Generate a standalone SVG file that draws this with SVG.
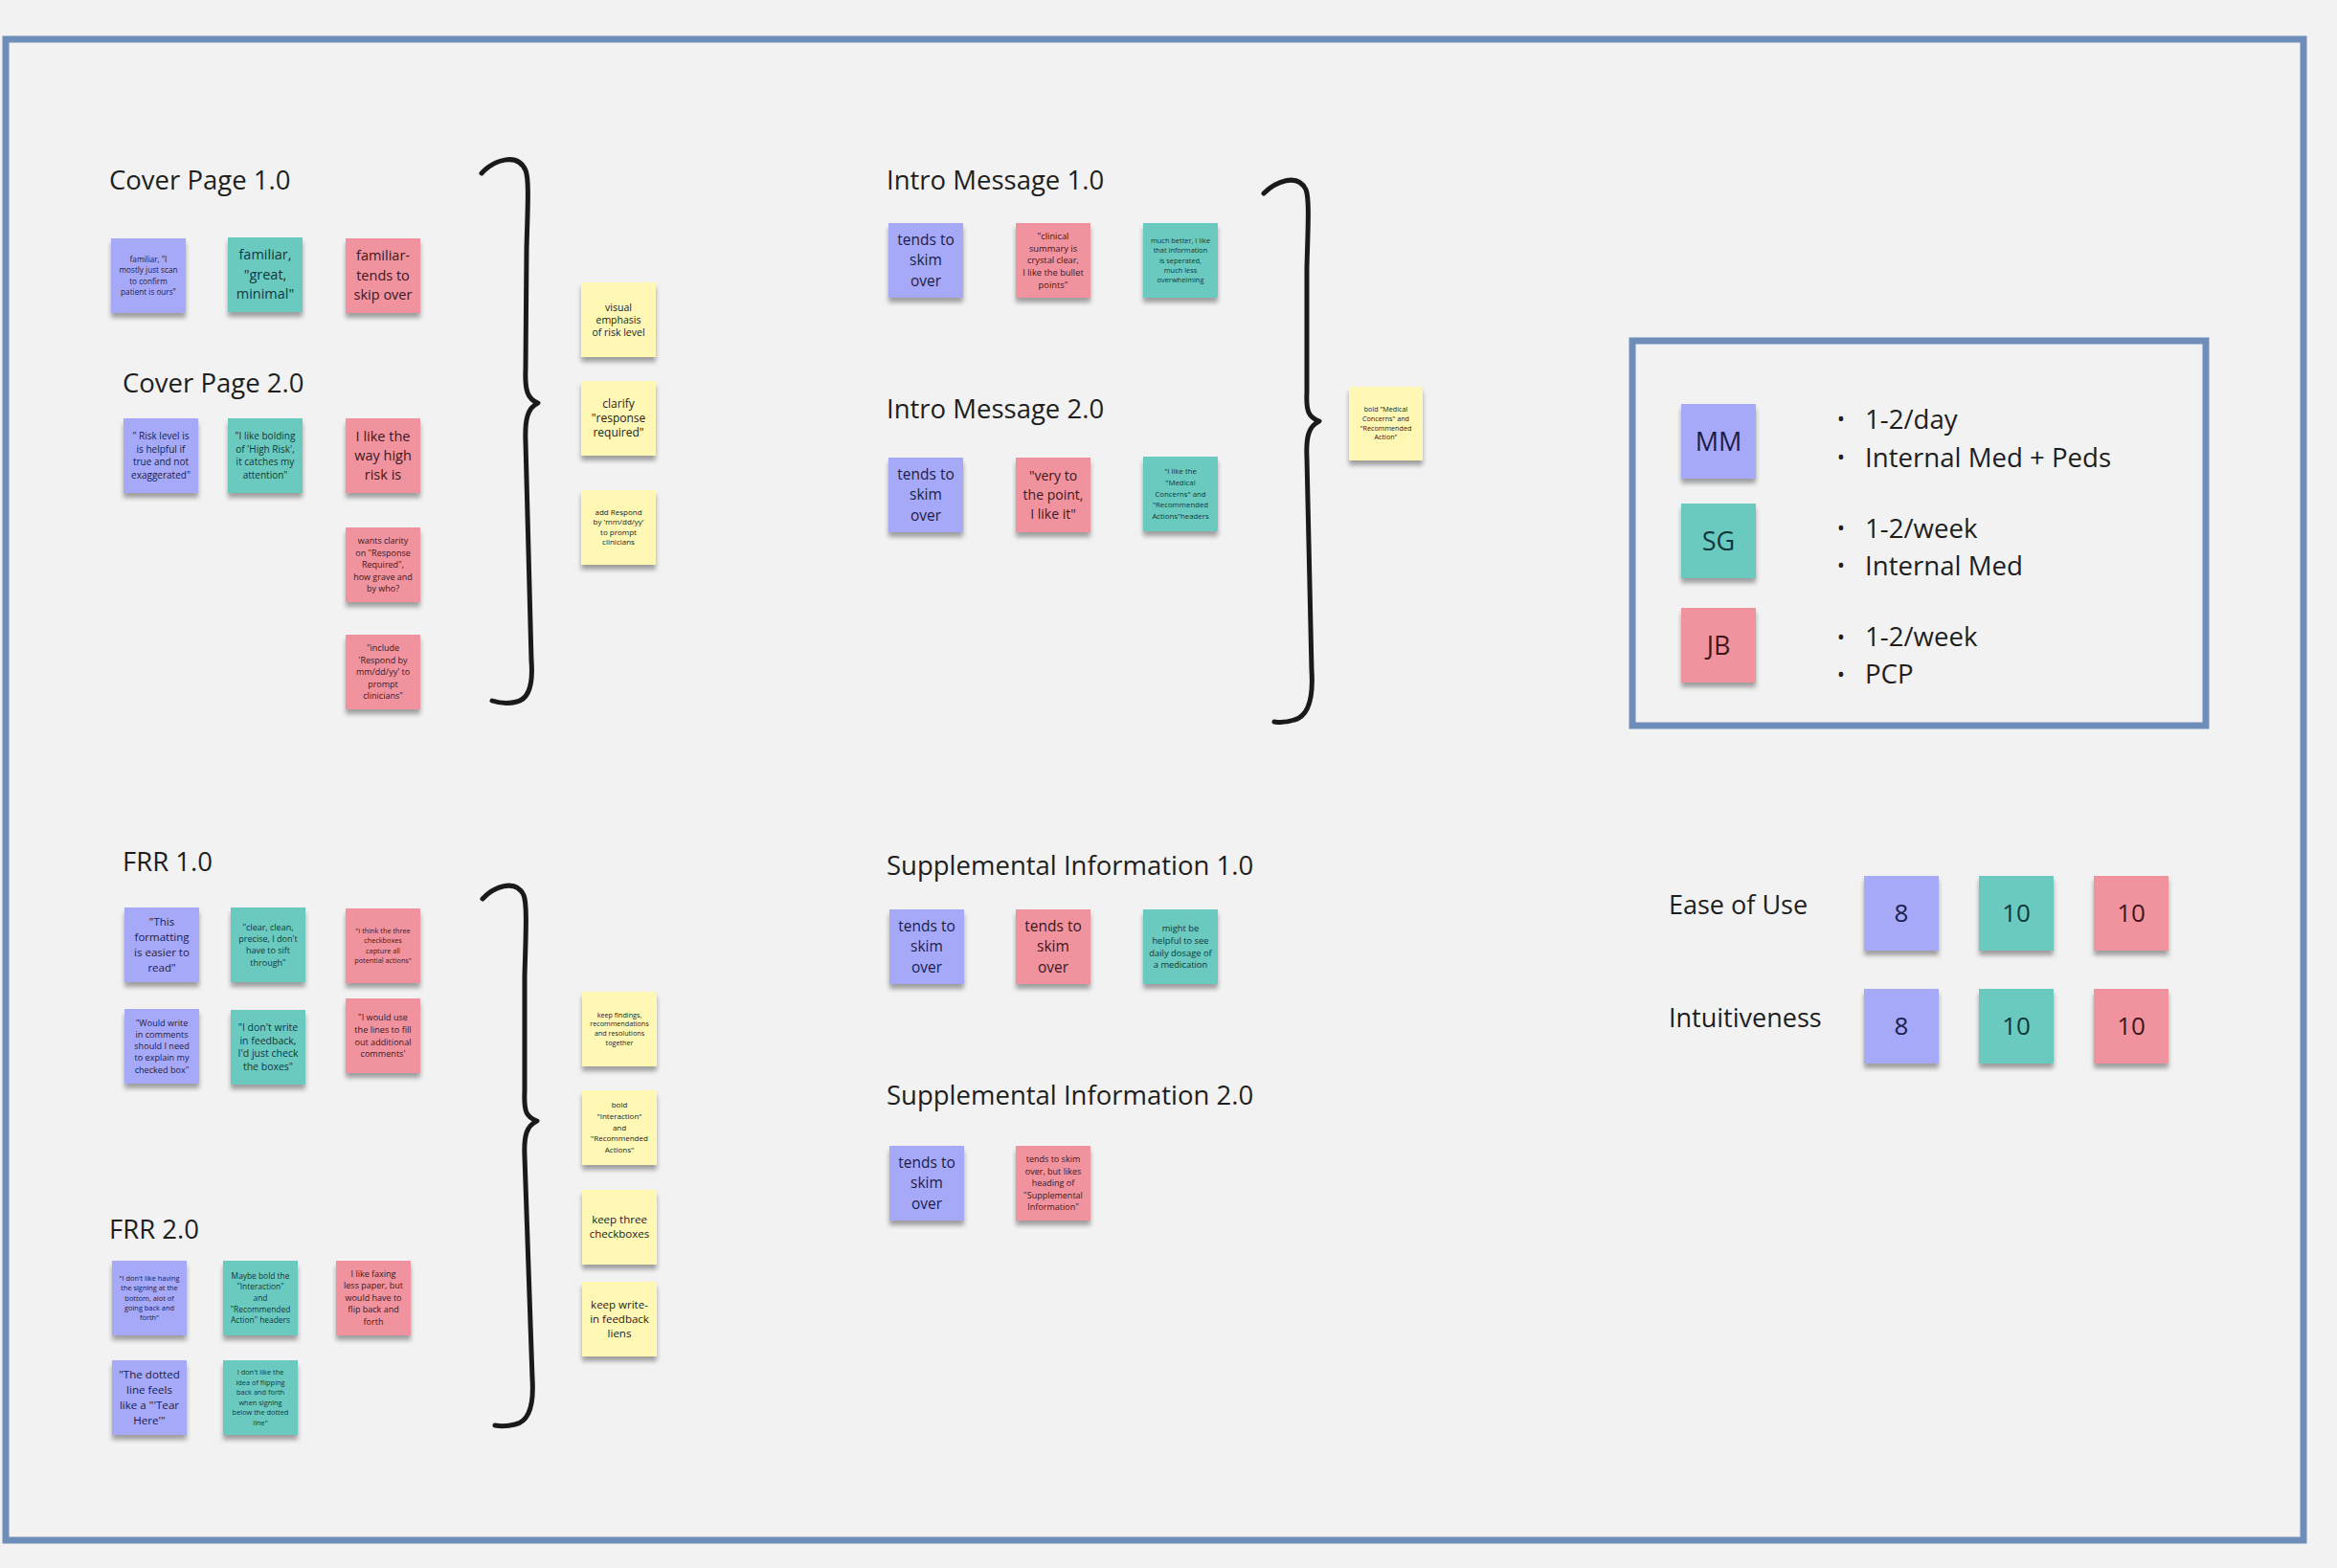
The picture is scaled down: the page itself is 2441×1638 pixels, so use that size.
<svg xmlns="http://www.w3.org/2000/svg" width="2441" height="1638" viewBox="0 0 2441 1638">
<defs>
<filter id="sh" x="-20%" y="-20%" width="140%" height="150%">
<feGaussianBlur in="SourceAlpha" stdDeviation="2.5"/>
<feOffset dy="5"/>
<feComponentTransfer><feFuncA type="linear" slope="0.35"/></feComponentTransfer>
<feMerge><feMergeNode/><feMergeNode in="SourceGraphic"/></feMerge>
</filter>
<style>
.s{filter:url(#sh)}
.b{fill:#a6a9f8}
.t{fill:#6acac0}
.p{fill:#f1939e}
.y{fill:#fef8b4}
text{font-family:"Open Sans","Liberation Sans",sans-serif;text-anchor:middle}
.tb{fill:#1c1c48}
.tt{fill:#10383a}
.tp{fill:#3e161c}
.ty{fill:#222}
.ttl{font-size:27.5px;fill:#1e1e1e;text-anchor:start}
.lg{font-size:27.6px;fill:#1e1e1e;text-anchor:start}
.br{fill:none;stroke:#1a1a1a;stroke-width:5;stroke-linecap:round;stroke-linejoin:round}
</style>
</defs>
<rect x="0" y="0" width="2441" height="1638" fill="#f2f2f2"/>
<rect x="6" y="41" width="2400" height="1568" fill="none" stroke="#6e8db8" stroke-width="7"/>

<g id="titles">
<text class="ttl" x="114" y="198">Cover Page 1.0</text>
<text class="ttl" x="128" y="410">Cover Page 2.0</text>
<text class="ttl" x="926" y="198">Intro Message 1.0</text>
<text class="ttl" x="926" y="437">Intro Message 2.0</text>
<text class="ttl" x="128" y="910">FRR 1.0</text>
<text class="ttl" x="114" y="1294">FRR 2.0</text>
<text class="ttl" x="926" y="914">Supplemental Information 1.0</text>
<text class="ttl" x="926" y="1154">Supplemental Information 2.0</text>
<text class="ttl" x="1743" y="955" style="font-size:27px">Ease of Use</text>
<text class="ttl" x="1743" y="1073" style="font-size:27px">Intuitiveness</text>
</g>

<g id="connectors">
<path class="br" d="M 503 181 C 515 168, 540 158, 549 178 C 553 188, 551 220, 550 260 L 549 385 C 548 408, 551 417, 562 421 C 551 426, 548 438, 549 462 L 555 690 C 557 715, 552 730, 540 733 C 530 736, 520 734, 514 732"/>
<path class="br" d="M 1320 202 C 1332 190, 1355 180, 1364 198 C 1368 208, 1366 240, 1365 280 L 1365 410 C 1364 430, 1367 436, 1378 440 C 1367 445, 1364 456, 1365 478 L 1370 700 C 1372 730, 1366 748, 1352 752 C 1343 755, 1336 755, 1331 754"/>
<path class="br" d="M 504 939 C 515 927, 538 917, 547 935 C 551 945, 549 980, 548 1020 L 548 1140 C 547 1162, 550 1167, 561 1171 C 550 1176, 547 1186, 548 1208 L 556 1440 C 558 1470, 552 1485, 538 1488 C 530 1490, 523 1490, 517 1489"/>
</g>

<!-- Cover Page 1.0 -->
<g id="c1-mm"><rect class="s b" x="116" y="249" width="78" height="78"/><text class="tb" font-size="8.2"><tspan x="155" y="273.9">familiar, "I</tspan><tspan x="155" y="285.2">mostly just scan</tspan><tspan x="155" y="296.5">to confirm</tspan><tspan x="155" y="307.8">patient is ours"</tspan></text></g>
<g id="c1-sg"><rect class="s t" x="238" y="248" width="78" height="78"/><text class="tt" font-size="14.5"><tspan x="277" y="271.4">familiar,</tspan><tspan x="277" y="291.9">"great,</tspan><tspan x="277" y="312.4">minimal"</tspan></text></g>
<g id="c1-jb"><rect class="s p" x="361" y="249" width="78" height="78"/><text class="tp" font-size="14.5"><tspan x="400" y="272.4">familiar-</tspan><tspan x="400" y="292.9">tends to</tspan><tspan x="400" y="313.4">skip over</tspan></text></g>

<!-- Cover Page 2.0 -->
<g id="c2-mm"><rect class="s b" x="129" y="437" width="78" height="78"/><text class="tb" font-size="10"><tspan x="168" y="458.6">" Risk level is</tspan><tspan x="168" y="472.5">is helpful if</tspan><tspan x="168" y="486.4">true and not</tspan><tspan x="168" y="500.3">exaggerated"</tspan></text></g>
<g id="c2-sg"><rect class="s t" x="238" y="437" width="78" height="78"/><text class="tt" font-size="10"><tspan x="277" y="458.6">"I like bolding</tspan><tspan x="277" y="472.5">of 'High Risk',</tspan><tspan x="277" y="486.4">it catches my</tspan><tspan x="277" y="500.3">attention"</tspan></text></g>
<g id="c2-jb1"><rect class="s p" x="361" y="437" width="78" height="78"/><text class="tp" font-size="14.5"><tspan x="400" y="461.1">I like the</tspan><tspan x="400" y="481.1">way high</tspan><tspan x="400" y="501.1">risk is</tspan></text></g>
<g id="c2-jb2"><rect class="s p" x="361" y="551" width="78" height="78"/><text class="tp" font-size="9"><tspan x="400" y="568.1">wants clarity</tspan><tspan x="400" y="580.6">on "Response</tspan><tspan x="400" y="593.1">Required",</tspan><tspan x="400" y="605.6">how grave and</tspan><tspan x="400" y="618.1">by who?</tspan></text></g>
<g id="c2-jb3"><rect class="s p" x="361" y="663" width="78" height="78"/><text class="tp" font-size="9"><tspan x="400" y="680.1">"include</tspan><tspan x="400" y="692.6">'Respond by</tspan><tspan x="400" y="705.1">mm/dd/yy' to</tspan><tspan x="400" y="717.6">prompt</tspan><tspan x="400" y="730.1">clinicians"</tspan></text></g>

<!-- Cover yellows -->
<g id="cy1"><rect class="s y" x="607" y="295" width="78" height="78"/><text class="ty" font-size="10.5"><tspan x="646" y="324.5">visual</tspan><tspan x="646" y="337.7">emphasis</tspan><tspan x="646" y="350.9">of risk level</tspan></text></g>
<g id="cy2"><rect class="s y" x="607" y="398" width="78" height="78"/><text class="ty" font-size="12"><tspan x="646" y="426.1">clarify</tspan><tspan x="646" y="441.1">"response</tspan><tspan x="646" y="456.1">required"</tspan></text></g>
<g id="cy3"><rect class="s y" x="607" y="512" width="78" height="78"/><text class="ty" font-size="8"><tspan x="646" y="538">add Respond</tspan><tspan x="646" y="548.3">by 'mm/dd/yy'</tspan><tspan x="646" y="558.6">to prompt</tspan><tspan x="646" y="568.9">clinicians</tspan></text></g>

<!-- Intro Message 1.0 -->
<g id="i1-mm"><rect class="s b" x="928" y="233" width="78" height="78"/><text class="tb" font-size="15.5"><tspan x="967" y="255.7">tends to</tspan><tspan x="967" y="277.4">skim</tspan><tspan x="967" y="299.1">over</tspan></text></g>
<g id="i1-jb"><rect class="s p" x="1061" y="233" width="78" height="78"/><text class="tp" font-size="9.3"><tspan x="1100" y="249.8">"clinical</tspan><tspan x="1100" y="262.5">summary is</tspan><tspan x="1100" y="275.2">crystal clear,</tspan><tspan x="1100" y="287.9">I like the bullet</tspan><tspan x="1100" y="300.6">points"</tspan></text></g>
<g id="i1-sg"><rect class="s t" x="1194" y="233" width="78" height="78"/><text class="tt" font-size="7.4"><tspan x="1233" y="253.9">much better, I like</tspan><tspan x="1233" y="264.2">that information</tspan><tspan x="1233" y="274.5">is seperated,</tspan><tspan x="1233" y="284.8">much less</tspan><tspan x="1233" y="295.1">overwhelming</tspan></text></g>

<!-- Intro Message 2.0 -->
<g id="i2-mm"><rect class="s b" x="928" y="478" width="78" height="78"/><text class="tb" font-size="15.5"><tspan x="967" y="500.6">tends to</tspan><tspan x="967" y="522.3">skim</tspan><tspan x="967" y="544">over</tspan></text></g>
<g id="i2-jb"><rect class="s p" x="1061" y="478" width="78" height="78"/><text class="tp" font-size="14"><tspan x="1100" y="501.8">"very to</tspan><tspan x="1100" y="521.8">the point,</tspan><tspan x="1100" y="541.8">I like it"</tspan></text></g>
<g id="i2-sg"><rect class="s t" x="1194" y="477" width="78" height="78"/><text class="tt" font-size="7.8"><tspan x="1233" y="495.3">"I like the</tspan><tspan x="1233" y="507">"Medical</tspan><tspan x="1233" y="518.7">Concerns" and</tspan><tspan x="1233" y="530.4">"Recommended</tspan><tspan x="1233" y="542.1">Actions"headers</tspan></text></g>

<g id="iy1"><rect class="s y" x="1409" y="404" width="77" height="77"/><text class="ty" font-size="7.2"><tspan x="1447.5" y="430.4">bold "Medical</tspan><tspan x="1447.5" y="440">Concerns" and</tspan><tspan x="1447.5" y="449.6">"Recommended</tspan><tspan x="1447.5" y="459.2">Action"</tspan></text></g>

<!-- FRR 1.0 -->
<g id="f1-mm1"><rect class="s b" x="130" y="948" width="78" height="78"/><text class="tb" font-size="11.5"><tspan x="169" y="967.1">"This</tspan><tspan x="169" y="983">formatting</tspan><tspan x="169" y="998.9">is easier to</tspan><tspan x="169" y="1014.8">read"</tspan></text></g>
<g id="f1-sg1"><rect class="s t" x="241" y="948" width="78" height="78"/><text class="tt" font-size="9"><tspan x="280" y="971.5">"clear, clean,</tspan><tspan x="280" y="983.9">precise, I don't</tspan><tspan x="280" y="996.3">have to sift</tspan><tspan x="280" y="1008.7">through"</tspan></text></g>
<g id="f1-jb1"><rect class="s p" x="361" y="949" width="78" height="78"/><text class="tp" font-size="7.3"><tspan x="400" y="975">"I think the three</tspan><tspan x="400" y="985.3">checkboxes</tspan><tspan x="400" y="995.6">capture all</tspan><tspan x="400" y="1005.9">potential actions"</tspan></text></g>
<g id="f1-mm2"><rect class="s b" x="130" y="1054" width="78" height="78"/><text class="tb" font-size="9.1"><tspan x="169" y="1071.7">"Would write</tspan><tspan x="169" y="1083.9">in comments</tspan><tspan x="169" y="1096.1">should I need</tspan><tspan x="169" y="1108.3">to explain my</tspan><tspan x="169" y="1120.5">checked box"</tspan></text></g>
<g id="f1-sg2"><rect class="s t" x="241" y="1055" width="78" height="78"/><text class="tt" font-size="10.5"><tspan x="280" y="1077">"I don't write</tspan><tspan x="280" y="1090.7">in feedback,</tspan><tspan x="280" y="1104.4">I'd just check</tspan><tspan x="280" y="1118.1">the boxes"</tspan></text></g>
<g id="f1-jb2"><rect class="s p" x="361" y="1043" width="78" height="78"/><text class="tp" font-size="9.1"><tspan x="400" y="1065.9">"I would use</tspan><tspan x="400" y="1078.7">the lines to fill</tspan><tspan x="400" y="1091.5">out additional</tspan><tspan x="400" y="1104.3">comments'</tspan></text></g>

<!-- FRR 2.0 -->
<g id="f2-mm1"><rect class="s b" x="117" y="1317" width="78" height="78"/><text class="tb" font-size="7.4"><tspan x="156" y="1337.7">"I don't like having</tspan><tspan x="156" y="1348.1">the signing at the</tspan><tspan x="156" y="1358.5">bottom, alot of</tspan><tspan x="156" y="1368.9">going back and</tspan><tspan x="156" y="1379.3">forth"</tspan></text></g>
<g id="f2-sg1"><rect class="s t" x="233" y="1317" width="78" height="78"/><text class="tt" font-size="8.4"><tspan x="272" y="1335.5">Maybe bold the</tspan><tspan x="272" y="1347.2">"Interaction"</tspan><tspan x="272" y="1358.9">and</tspan><tspan x="272" y="1370.6">"Recommended</tspan><tspan x="272" y="1382.3">Action" headers</tspan></text></g>
<g id="f2-jb1"><rect class="s p" x="351" y="1317" width="78" height="78"/><text class="tp" font-size="9"><tspan x="390" y="1333.6">I like faxing</tspan><tspan x="390" y="1346.1">less paper, but</tspan><tspan x="390" y="1358.6">would have to</tspan><tspan x="390" y="1371.1">flip back and</tspan><tspan x="390" y="1383.6">forth</tspan></text></g>
<g id="f2-mm2"><rect class="s b" x="117" y="1421" width="78" height="78"/><text class="tb" font-size="11.6"><tspan x="156" y="1439.5">"The dotted</tspan><tspan x="156" y="1455.8">line feels</tspan><tspan x="156" y="1472.1">like a "'Tear</tspan><tspan x="156" y="1488.4">Here'"</tspan></text></g>
<g id="f2-sg2"><rect class="s t" x="233" y="1421" width="78" height="78"/><text class="tt" font-size="7.4"><tspan x="272" y="1436.3">I don't like the</tspan><tspan x="272" y="1446.8">idea of flipping</tspan><tspan x="272" y="1457.3">back and forth</tspan><tspan x="272" y="1467.8">when signing</tspan><tspan x="272" y="1478.3">below the dotted</tspan><tspan x="272" y="1488.8">line"</tspan></text></g>

<!-- FRR yellows -->
<g id="fy1"><rect class="s y" x="608" y="1036" width="78" height="78"/><text class="ty" font-size="7.2"><tspan x="647" y="1062.6">keep findings,</tspan><tspan x="647" y="1072.4">recommendations</tspan><tspan x="647" y="1082.2">and resolutions</tspan><tspan x="647" y="1092">together</tspan></text></g>
<g id="fy2"><rect class="s y" x="608" y="1139" width="78" height="78"/><text class="ty" font-size="8"><tspan x="647" y="1157.3">bold</tspan><tspan x="647" y="1169">"Interaction"</tspan><tspan x="647" y="1180.7">and</tspan><tspan x="647" y="1192.4">"Recommended</tspan><tspan x="647" y="1204.1">Actions"</tspan></text></g>
<g id="fy3"><rect class="s y" x="608" y="1243" width="78" height="78"/><text class="ty" font-size="11.5"><tspan x="647" y="1278.4">keep three</tspan><tspan x="647" y="1293.4">checkboxes</tspan></text></g>
<g id="fy4"><rect class="s y" x="608" y="1339" width="78" height="78"/><text class="ty" font-size="11.5"><tspan x="647" y="1366.9">keep write-</tspan><tspan x="647" y="1381.9">in feedback</tspan><tspan x="647" y="1396.9">liens</tspan></text></g>

<!-- Supplemental Information 1.0 -->
<g id="s1-mm"><rect class="s b" x="929" y="950" width="78" height="78"/><text class="tb" font-size="15.5"><tspan x="968" y="972.6">tends to</tspan><tspan x="968" y="994.3">skim</tspan><tspan x="968" y="1016">over</tspan></text></g>
<g id="s1-jb"><rect class="s p" x="1061" y="950" width="78" height="78"/><text class="tp" font-size="15.5"><tspan x="1100" y="972.6">tends to</tspan><tspan x="1100" y="994.3">skim</tspan><tspan x="1100" y="1016">over</tspan></text></g>
<g id="s1-sg"><rect class="s t" x="1194" y="950" width="78" height="78"/><text class="tt" font-size="9.4"><tspan x="1233" y="973.3">might be</tspan><tspan x="1233" y="985.9">helpful to see</tspan><tspan x="1233" y="998.5">daily dosage of</tspan><tspan x="1233" y="1011.1">a medication</tspan></text></g>

<!-- Supplemental Information 2.0 -->
<g id="s2-mm"><rect class="s b" x="929" y="1197" width="78" height="78"/><text class="tb" font-size="15.5"><tspan x="968" y="1219.6">tends to</tspan><tspan x="968" y="1241.3">skim</tspan><tspan x="968" y="1263">over</tspan></text></g>
<g id="s2-jb"><rect class="s p" x="1061" y="1197" width="78" height="78"/><text class="tp" font-size="9"><tspan x="1100" y="1214.1">tends to skim</tspan><tspan x="1100" y="1226.6">over, but likes</tspan><tspan x="1100" y="1239.1">heading of</tspan><tspan x="1100" y="1251.6">"Supplemental</tspan><tspan x="1100" y="1264.1">Information"</tspan></text></g>

<!-- Legend -->
<g id="legend">
<rect x="1705" y="356" width="599" height="402" fill="none" stroke="#6e8db8" stroke-width="7"/>
<g id="lg-mm"><rect class="s b" x="1756" y="422" width="78" height="78"/><text class="tb" font-size="27" x="1795" y="470.6">MM</text></g>
<g id="lg-sg"><rect class="s t" x="1756" y="526" width="78" height="78"/><text class="tt" font-size="27" x="1795" y="574.6">SG</text></g>
<g id="lg-jb"><rect class="s p" x="1756" y="635" width="78" height="78"/><text class="tp" font-size="27" x="1795" y="683.6">JB</text></g>
<g id="lg-text" fill="#1e1e1e">
<text x="1923" y="445" font-size="22">•</text>
<text x="1923" y="485" font-size="22">•</text>
<text x="1923" y="559" font-size="22">•</text>
<text x="1923" y="598" font-size="22">•</text>
<text x="1923" y="673" font-size="22">•</text>
<text x="1923" y="712" font-size="22">•</text>
<text class="lg" x="1948" y="448">1-2/day</text>
<text class="lg" x="1948" y="488">Internal Med + Peds</text>
<text class="lg" x="1948" y="562">1-2/week</text>
<text class="lg" x="1948" y="601">Internal Med</text>
<text class="lg" x="1948" y="675">1-2/week</text>
<text class="lg" x="1948" y="714">PCP</text>
</g>
</g>

<!-- Scores -->
<g id="sc-eou-mm"><rect class="s b" x="1947" y="915" width="78" height="78"/><text class="tb" font-size="26" x="1986" y="963.3">8</text></g>
<g id="sc-eou-sg"><rect class="s t" x="2067" y="915" width="78" height="78"/><text class="tt" font-size="26" x="2106" y="963.3">10</text></g>
<g id="sc-eou-jb"><rect class="s p" x="2187" y="915" width="78" height="78"/><text class="tp" font-size="26" x="2226" y="963.3">10</text></g>
<g id="sc-int-mm"><rect class="s b" x="1947" y="1033" width="78" height="78"/><text class="tb" font-size="26" x="1986" y="1081.3">8</text></g>
<g id="sc-int-sg"><rect class="s t" x="2067" y="1033" width="78" height="78"/><text class="tt" font-size="26" x="2106" y="1081.3">10</text></g>
<g id="sc-int-jb"><rect class="s p" x="2187" y="1033" width="78" height="78"/><text class="tp" font-size="26" x="2226" y="1081.3">10</text></g>
</svg>
